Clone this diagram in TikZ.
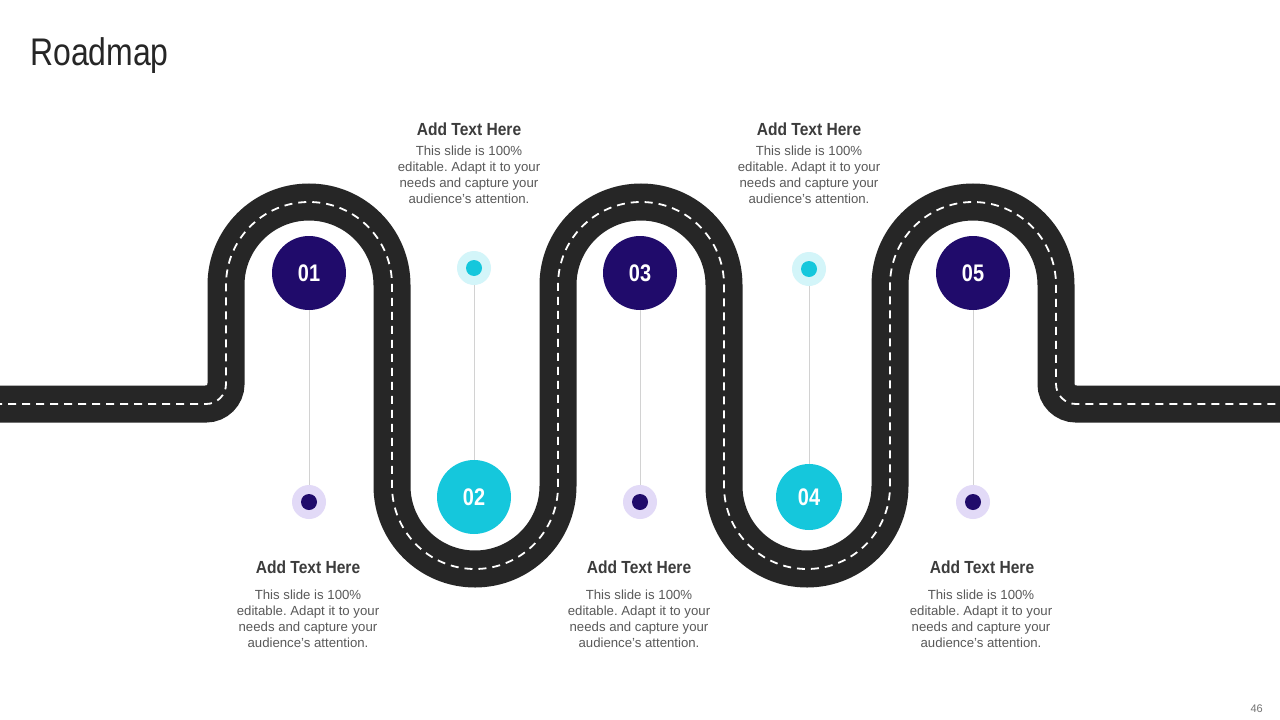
\documentclass[tikz,border=0pt]{standalone}
\usepackage{fontspec}
\setmainfont{Liberation Sans}
\newfontfamily\condfont[FakeStretch=0.83]{Liberation Sans}
\newfontfamily\headfont[FakeStretch=0.89]{Liberation Sans}
\definecolor{roadc}{HTML}{262626}
\definecolor{purp}{HTML}{200B6B}
\definecolor{cyanc}{HTML}{15C7DC}
\definecolor{lav}{HTML}{E2DAF7}
\definecolor{lcy}{HTML}{D3F5F9}
\definecolor{headc}{HTML}{3C3C3C}
\definecolor{bodyc}{HTML}{595959}
\definecolor{linec}{HTML}{D2D2D2}
\frenchspacing
\begin{document}
\begin{tikzpicture}[x=1pt,y=1pt,
  bignum/.style={circle,inner sep=0pt,text=white,font=\condfont\bfseries\fontsize{24}{24}\selectfont},
  purpbig/.style={bignum,fill=purp,minimum size=74pt},
  cyanbig/.style={bignum,fill=cyanc,minimum size=74pt},
  halo/.style={circle,inner sep=0pt,minimum size=34pt},
  dotc/.style={circle,inner sep=0pt,minimum size=16pt},
  heading/.style={text=headc,font=\headfont\bfseries\fontsize{17.5}{20}\selectfont,inner sep=0pt},
  bodytext/.style={text=bodyc,font=\fontsize{13.2}{16}\selectfont,align=center,inner sep=0pt},
  stem/.style={draw=linec,line width=0.8pt},
  roadline/.style={draw=roadc,line width=37pt},
  dashline/.style={draw=white,line width=1.8pt,dash pattern=on 8pt off 6pt}
]
\useasboundingbox (0,0) rectangle (1280,-720);
\fill[white] (0,0) rectangle (1280,-720);

% title
\node[anchor=base west,inner sep=0pt,text=black!85,font=\condfont\fontsize{38.5}{39}\selectfont] (title) at (30,-65) {Roadmap};
\node[anchor=base east,inner sep=0pt,text=black!55,font=\fontsize{11}{11}\selectfont] (pnum) at (1263,-712) {46};

% road
\def\roadpath{(-20,-404) -- (206,-404) arc[start angle=270,end angle=360,radius=20] -- (226,-285)
 arc[start angle=180,end angle=0,radius=83] -- (392,-486)
 arc[start angle=180,end angle=360,radius=83] -- (558,-285)
 arc[start angle=180,end angle=0,radius=83] -- (724,-486)
 arc[start angle=180,end angle=360,radius=83] -- (890,-285)
 arc[start angle=180,end angle=0,radius=83] -- (1056,-384)
 arc[start angle=180,end angle=270,radius=20] -- (1300,-404)}
\path[roadline] \roadpath;
\path[dashline] \roadpath;

% stems
\coordinate (s1) at (309,-502);
\coordinate (s3) at (640,-502);
\coordinate (s5) at (973,-502);
\coordinate (s2) at (474,-268);
\coordinate (s4) at (809,-269);

% big circles
\node[purpbig] (c1) at (309,-273) {01};
\node[cyanbig] (c2) at (474,-497) {02};
\node[purpbig] (c3) at (640,-273) {03};
\node[cyanbig,minimum size=66pt] (c4) at (809,-497) {04};
\node[purpbig] (c5) at (973,-273) {05};

\draw[stem] (c1.south) -- (s1);
\draw[stem] (c3.south) -- (s3);
\draw[stem] (c5.south) -- (s5);
\draw[stem] (s2) -- (c2.north);
\draw[stem] (s4) -- (c4.north);

% small dots
\node[halo,fill=lav] (h1) at (s1) {};
\node[dotc,fill=purp] (d1) at (s1) {};
\node[halo,fill=lav] (h3) at (s3) {};
\node[dotc,fill=purp] (d3) at (s3) {};
\node[halo,fill=lav] (h5) at (s5) {};
\node[dotc,fill=purp] (d5) at (s5) {};
\node[halo,fill=lcy] (h2) at (s2) {};
\node[dotc,fill=cyanc] (d2) at (s2) {};
\node[halo,fill=lcy] (h4) at (s4) {};
\node[dotc,fill=cyanc] (d4) at (s4) {};

% texts top
\node[heading,anchor=base] (t2) at (469,-135) {Add Text Here};
\node[bodytext,anchor=north] (b2) at (469,-146) {This slide is 100\%\\editable. Adapt it to your\\needs and capture your\\audience's attention.};
\node[heading,anchor=base] (t4) at (809,-135) {Add Text Here};
\node[bodytext,anchor=north] (b4) at (809,-146) {This slide is 100\%\\editable. Adapt it to your\\needs and capture your\\audience's attention.};

% texts bottom
\node[heading,anchor=base] (t1) at (308,-573) {Add Text Here};
\node[bodytext,anchor=north] (b1) at (308,-590) {This slide is 100\%\\editable. Adapt it to your\\needs and capture your\\audience's attention.};
\node[heading,anchor=base] (t3) at (639,-573) {Add Text Here};
\node[bodytext,anchor=north] (b3) at (639,-590) {This slide is 100\%\\editable. Adapt it to your\\needs and capture your\\audience's attention.};
\node[heading,anchor=base] (t5) at (982,-573) {Add Text Here};
\node[bodytext,anchor=north] (b5) at (981,-590) {This slide is 100\%\\editable. Adapt it to your\\needs and capture your\\audience's attention.};
\end{tikzpicture}
\end{document}
